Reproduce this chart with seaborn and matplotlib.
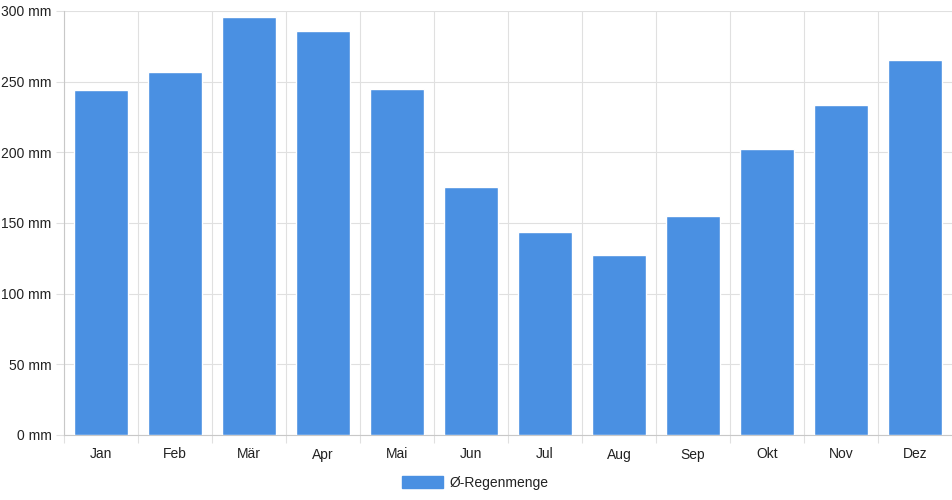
import matplotlib
matplotlib.use("Agg")
import matplotlib.pyplot as plt
import seaborn as sns
import pandas as pd
import numpy as np
from matplotlib.patches import Patch
from matplotlib.ticker import FuncFormatter, FixedLocator

months = ["Jan", "Feb", "Mär", "Apr", "Mai", "Jun", "Jul", "Aug", "Sep", "Okt", "Nov", "Dez"]
rain = [244, 256.5, 296, 286, 245, 175.5, 143.5, 127.5, 155, 202.5, 233.5, 265]
series_name = "Ø-Regenmenge"
yticks = [0, 50, 100, 150, 200, 250, 300]

df = pd.DataFrame({"Monat": months, "Regen": rain})

sns.set_theme(style="white")
plt.rcParams["font.family"] = ["Liberation Sans", "DejaVu Sans"]

fig = plt.figure(figsize=(9.52, 5.0), dpi=100)
ax = fig.add_axes([64/952, 1-435/500, (952-64)/952, (435-11)/500])

bar_color = "#4a90e2"
sns.barplot(data=df, x="Monat", y="Regen", color=bar_color, width=0.73,
            saturation=1, ax=ax, zorder=3)

ax.set_xlim(-0.5, len(months) - 0.5)
ax.set_ylim(0, 300)
ax.set_xlabel("")
ax.set_ylabel("")

grid_c = "#e0e0e0"
ax.yaxis.set_major_locator(FixedLocator(yticks))
ax.yaxis.set_major_formatter(FuncFormatter(lambda v, p: f"{int(v)} mm"))
ax.xaxis.set_minor_locator(FixedLocator(np.arange(-0.5, len(months) - 0.5, 1.0)))
ax.grid(True, axis="y", which="major", color=grid_c, linewidth=0.8, zorder=0)
ax.grid(True, axis="x", which="minor", color=grid_c, linewidth=0.8, zorder=0)
ax.grid(False, axis="x", which="major")

ax.tick_params(axis="y", which="major", length=6, width=0.8, color=grid_c,
               labelsize=10, labelcolor="#222222", pad=3, left=True)
ax.tick_params(axis="x", which="major", length=0, labelsize=10,
               labelcolor="#222222", pad=9)
ax.tick_params(axis="x", which="minor", length=6, width=0.8, color=grid_c, bottom=True)

for side in ["top", "right"]:
    ax.spines[side].set_visible(False)
ax.spines["left"].set_color("#c8c8c8")
ax.spines["bottom"].set_color("#c8c8c8")
ax.spines["left"].set_linewidth(0.8)
ax.spines["bottom"].set_linewidth(0.8)

handle = Patch(facecolor=bar_color, edgecolor=bar_color, label=series_name)
fig.legend(handles=[handle], loc="center", bbox_to_anchor=(0.4995, 1-483/500),
           frameon=False, fontsize=10, handlelength=2.9, handleheight=1.0,
           handletextpad=0.5, labelcolor="#222222")

fig.savefig("out.png", dpi=100)
